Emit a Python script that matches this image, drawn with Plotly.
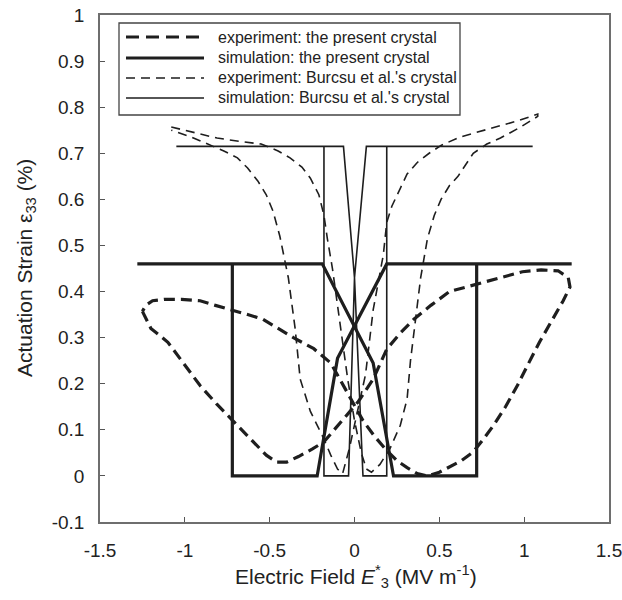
import plotly.graph_objects as go

# ---------------- data ----------------
# experiment: the present crystal (thick dashed loop)
exp_present_x = [-1.25, -1.20, -1.10, -1.00, -0.91, -0.81, -0.71, -0.60, -0.52, -0.46, -0.40,
                 -0.33, -0.25, -0.18, -0.08, 0.02, 0.11, 0.19, 0.27, 0.35, 0.45, 0.56, 0.66,
                 0.76, 0.88, 0.99, 1.10, 1.20, 1.26, 1.27, 1.23, 1.16, 1.09, 1.02, 0.96, 0.89,
                 0.82, 0.76, 0.70, 0.63, 0.56, 0.50, 0.43, 0.37, 0.31, 0.25, 0.19, 0.12, 0.05,
                 -0.04, -0.14, -0.24, -0.36, -0.45, -0.54, -0.63, -0.73, -0.82, -0.91, -1.02,
                 -1.12, -1.19, -1.23, -1.25]
exp_present_y = [0.357, 0.32, 0.29, 0.24, 0.196, 0.155, 0.117, 0.075, 0.045, 0.03, 0.03,
                 0.042, 0.058, 0.074, 0.117, 0.16, 0.21, 0.275, 0.31, 0.34, 0.37, 0.40, 0.41,
                 0.42, 0.433, 0.443, 0.447, 0.445, 0.43, 0.41, 0.38, 0.335, 0.29, 0.24, 0.196,
                 0.15, 0.11, 0.08, 0.052, 0.033, 0.02, 0.008, 0.0, 0.005, 0.018, 0.033, 0.055,
                 0.085, 0.12, 0.18, 0.245, 0.276, 0.30, 0.32, 0.34, 0.35, 0.36, 0.37, 0.38,
                 0.383, 0.383, 0.38, 0.37, 0.357]

# simulation: the present crystal (thick solid)
sim_present_x = [-1.28, -0.19, 0.11, 0.23, 0.72, 0.72, 1.28, 0.19, -0.10, -0.22, -0.72, -0.72, -1.28]
sim_present_y = [0.46, 0.46, 0.245, 0.0, 0.0, 0.46, 0.46, 0.46, 0.255, 0.0, 0.0, 0.46, 0.46]

# experiment: Burcsu et al.'s crystal (thin dashed)
exp_burcsu_x = [-1.08, -0.95, -0.81, -0.68, -0.55, -0.45, -0.38, -0.31, -0.26, -0.21, -0.18,
                -0.16, -0.13, -0.10, -0.07, -0.04, 0.0, 0.04, 0.07, 0.10, 0.15, 0.21, 0.27,
                0.31, 0.33, 0.36, 0.39, 0.43, 0.47, 0.51, 0.56, 0.61, 0.70, 0.78, 0.86, 0.97,
                1.08,
                1.08, 0.96, 0.86, 0.76, 0.62, 0.51, 0.44, 0.37, 0.31, 0.27, 0.22, 0.19, 0.17,
                0.14, 0.11, 0.065, 0.02, -0.03, -0.07, -0.10, -0.14, -0.18, -0.26, -0.32,
                -0.35, -0.39, -0.44, -0.48, -0.52, -0.57, -0.63, -0.69, -0.77, -0.85, -0.96,
                -1.08]
exp_burcsu_y = [0.757, 0.745, 0.733, 0.726, 0.72, 0.705, 0.69, 0.67, 0.646, 0.61, 0.565,
                0.515, 0.45, 0.37, 0.29, 0.21, 0.12, 0.05, 0.015, 0.008, 0.025, 0.06, 0.11,
                0.167, 0.25, 0.34, 0.43, 0.515, 0.565, 0.60, 0.63, 0.65, 0.70, 0.72, 0.733,
                0.755, 0.78,
                0.785, 0.77, 0.76, 0.75, 0.735, 0.717, 0.70, 0.68, 0.655, 0.624, 0.585, 0.55,
                0.48, 0.42, 0.36, 0.22, 0.145, 0.06, 0.005, 0.015, 0.045, 0.08, 0.14, 0.21,
                0.32, 0.43, 0.52, 0.574, 0.61, 0.64, 0.668, 0.69, 0.705, 0.717, 0.735, 0.75]

# simulation: Burcsu et al.'s crystal (thin solid)
sim_burcsu_x = [-1.05, -0.065, 0.0, 0.05, 0.19, 0.19, 1.05, 0.07, 0.0, -0.035, -0.18, -0.18, -1.05]
sim_burcsu_y = [0.715, 0.715, 0.43, 0.0, 0.0, 0.715, 0.715, 0.715, 0.43, 0.0, 0.0, 0.715, 0.715]

legend_labels = ["experiment: the present crystal",
                 "simulation: the present crystal",
                 "experiment: Burcsu et al.'s crystal",
                 "simulation: Burcsu et al.'s crystal"]

x_tickvals = [-1.5, -1.0, -0.5, 0.0, 0.5, 1.0, 1.5]
x_ticktext = ["-1.5", "-1", "-0.5", "0", "0.5", "1", "1.5"]
y_tickvals = [-0.1, 0.0, 0.1, 0.2, 0.3, 0.4, 0.5, 0.6, 0.7, 0.8, 0.9, 1.0]
y_ticktext = ["-0.1", "0", "0.1", "0.2", "0.3", "0.4", "0.5", "0.6", "0.7", "0.8", "0.9", "1"]

x_title = "Electric Field <i>E</i><sup>*</sup><sub>3</sub> (MV m<sup>-1</sup>)"
y_title = "Actuation Strain ε<sub>33</sub> (%)"

# ---------------- styles ----------------
INK = "#1e1e1e"
TXT = "#222"
FONT = "Liberation Sans, Arial, sans-serif"
styles = [
    dict(color=INK, width=3.2, dash="11px,6px"),
    dict(color=INK, width=3.2, dash="solid"),
    dict(color=INK, width=1.6, dash="9px,6px"),
    dict(color=INK, width=1.6, dash="solid"),
]
series = [(exp_present_x, exp_present_y), (sim_present_x, sim_present_y),
          (exp_burcsu_x, exp_burcsu_y), (sim_burcsu_x, sim_burcsu_y)]

fig = go.Figure()
for (xs, ys), st, name in zip(series, styles, legend_labels):
    fig.add_trace(go.Scatter(x=xs, y=ys, mode="lines", line=st, name=name,
                             showlegend=False, hoverinfo="skip"))

# figure fills the whole window (body margin removed below); plot area x 100..609, y 15..522
W, H = 622, 600
PL, PR, PT, PB = 100, 609, 15, 522
L, R, T, B = PL, W - PR, PT, H - PB
pw, ph = PR - PL, PB - PT


def px2paper(px, py):
    return (px - PL) / pw, (PB - py) / ph


# manual legend box
x0, y0 = px2paper(119, 115)
x1, y1 = px2paper(460, 23)
shapes = [dict(type="rect", xref="paper", yref="paper", x0=x0, y0=y0, x1=x1, y1=y1,
               line=dict(color="#444", width=1.3), fillcolor="white", layer="above")]
annotations = []
rows_py = [37, 58, 78, 98]
legend_dash = ["13px,7px", "solid", "9px,6px", "solid"]
for py, st, lab, ld in zip(rows_py, styles, legend_labels, legend_dash):
    sx0, sy = px2paper(126, py)
    sx1, _ = px2paper(204, py)
    shapes.append(dict(type="line", xref="paper", yref="paper", x0=sx0, x1=sx1, y0=sy, y1=sy,
                       line=dict(color=INK, width=st["width"], dash=ld), layer="above"))
    tx, _ = px2paper(216, py)
    annotations.append(dict(xref="paper", yref="paper", x=tx, y=sy, text=lab, showarrow=False,
                            xanchor="left", yanchor="middle",
                            font=dict(family=FONT, size=16, color=TXT)))

# axis titles as annotations for exact placement
xtx, xty = px2paper(356, 576)
annotations.append(dict(xref="paper", yref="paper", x=xtx, y=xty, text=x_title, showarrow=False,
                        xanchor="center", yanchor="middle",
                        font=dict(family=FONT, size=21, color=TXT)))
ytx, yty = px2paper(26, 268)
annotations.append(dict(xref="paper", yref="paper", x=ytx, y=yty, text=y_title, showarrow=False,
                        xanchor="center", yanchor="middle", textangle=-90,
                        font=dict(family=FONT, size=21, color=TXT)))

axis_common = dict(showline=True, linecolor="#6e6e6e", linewidth=1.5, mirror=True,
                   ticks="inside", ticklen=5, tickcolor="#555", tickwidth=1.2,
                   showgrid=False, zeroline=False, ticklabeloverflow="allow",
                   tickfont=dict(family=FONT, size=19, color=TXT))

fig.update_layout(
    width=W, height=H,
    margin=dict(l=L, r=R, t=T, b=B, autoexpand=False),
    paper_bgcolor="white", plot_bgcolor="white",
    showlegend=False,
    shapes=shapes, annotations=annotations,
    xaxis=dict(range=[-1.5, 1.5], tickvals=x_tickvals, ticktext=x_ticktext,
               ticklabelstandoff=10, **axis_common),
    yaxis=dict(range=[-0.1, 1.0], tickvals=y_tickvals, ticktext=y_ticktext,
               ticklabelstandoff=10, **axis_common),
)

fig.write_html("out.html", config={"displayModeBar": False},
               post_script="document.body.style.margin='0';document.body.style.overflow='hidden';")
